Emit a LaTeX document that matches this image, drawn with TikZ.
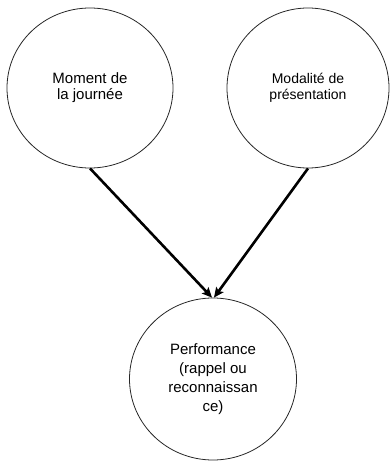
\documentclass[tikz,border=0pt]{standalone}
\usepackage{fontspec}
\setmainfont{Liberation Sans}
\usetikzlibrary{shapes.geometric,arrows.meta}

\begin{document}
\begin{tikzpicture}[x=1pt,y=1pt,
    bubble/.style={draw=black!85, line width=0.8pt, ellipse, inner sep=0pt,
        minimum width=166pt, minimum height=160pt, align=center},
    effect/.style={draw=black, line width=2.6pt, -{Stealth[length=10pt,width=9pt,inset=2pt]}}]

    % Page size
    \useasboundingbox (0,0) rectangle (390,461);

    % Causes
    \node[bubble, font=\fontsize{15}{16}\selectfont] (moment) at (90,373) {Moment de\\la journée};
    \node[bubble, minimum width=162pt, font=\fontsize{14}{16}\selectfont] (modalite) at (308,373) {Modalité de\\présentation};

    % Outcome
    \node[bubble, minimum width=167pt, minimum height=162pt, font=\fontsize{15}{19}\selectfont] (perf) at (213,82) {Performance\\(rappel ou\\reconnaissan\\ce)};

    % Arrows
    \draw[effect] (moment.south) -- ([xshift=-1pt]perf.north); % moment -> perf
    \draw[effect] (modalite.south) -- ([xshift=1pt]perf.north); % modalite -> perf
\end{tikzpicture}
\end{document}
